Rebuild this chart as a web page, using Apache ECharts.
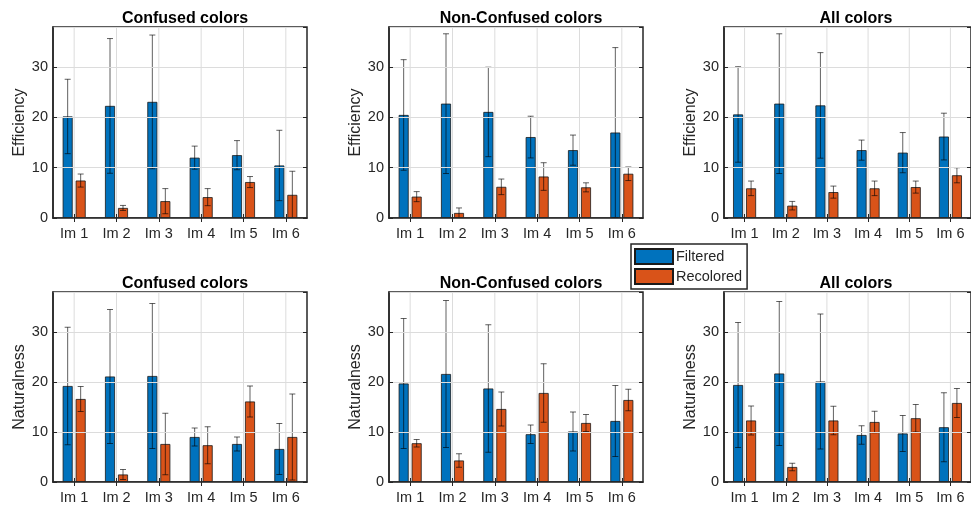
<!DOCTYPE html>
<html>
<head>
<meta charset="utf-8">
<script src="https://cdn.jsdelivr.net/npm/echarts@6/dist/echarts.min.js"></script>
<style>
html,body{margin:0;padding:0;background:#fff;}
#chart{width:971px;height:507px;}
</style>
</head>
<body>
<div id="chart"></div>
<script>
// ---- data ----
const categories = ['Im 1', 'Im 2', 'Im 3', 'Im 4', 'Im 5', 'Im 6'];
const seriesNames = ['Filtered', 'Recolored'];
const panelTitles = ['Confused colors', 'Non-Confused colors', 'All colors',
                     'Confused colors', 'Non-Confused colors', 'All colors'];
const yLabels = ['Efficiency', 'Efficiency', 'Efficiency', 'Naturalness', 'Naturalness', 'Naturalness'];
const yTicks = [0, 10, 20, 30];
const yMax = 38;

// Efficiency - Confused colors
const effConfFiltered = [20.2, 22.3, 23.1, 12.0, 12.5, 10.45];
const effConfFilteredErr = [7.4, 13.4, 13.3, 2.3, 2.9, 7.0];
const effConfRecolored = [7.45, 2.0, 3.35, 4.15, 7.15, 4.6];
const effConfRecoloredErr = [1.3, 0.5, 2.5, 1.7, 1.1, 4.7];
// Efficiency - Non-Confused colors
const effNonFiltered = [20.5, 22.75, 21.1, 16.1, 13.5, 17.0];
const effNonFilteredErr = [11.0, 13.9, 8.9, 4.15, 3.0, 16.9];
const effNonRecolored = [4.25, 1.0, 6.2, 8.25, 6.1, 8.8];
const effNonRecoloredErr = [1.0, 1.0, 1.55, 2.75, 0.9, 1.35];
// Efficiency - All colors
const effAllFiltered = [20.6, 22.75, 22.4, 13.5, 13.0, 16.2];
const effAllFilteredErr = [9.5, 13.9, 10.5, 2.0, 4.0, 4.65];
const effAllRecolored = [5.9, 2.45, 5.15, 5.9, 6.15, 8.5];
const effAllRecoloredErr = [1.45, 0.85, 1.2, 1.45, 1.2, 1.5];
// Naturalness - Confused colors
const natConfFiltered = [19.2, 21.1, 21.2, 9.0, 7.6, 6.6];
const natConfFilteredErr = [11.75, 13.4, 14.5, 1.8, 1.4, 5.1];
const natConfRecolored = [16.6, 1.5, 7.6, 7.35, 16.1, 9.0];
const natConfRecoloredErr = [2.5, 1.0, 6.15, 3.7, 3.1, 8.6];
// Naturalness - Non-Confused colors
const natNonFiltered = [19.7, 21.6, 18.7, 9.55, 10.1, 12.2];
const natNonFilteredErr = [13.0, 14.7, 12.75, 1.85, 3.9, 7.1];
const natNonRecolored = [7.75, 4.3, 14.6, 17.8, 11.8, 16.4];
const natNonRecoloredErr = [0.75, 1.35, 3.4, 5.85, 1.7, 2.15];
// Naturalness - All colors
const natAllFiltered = [19.4, 21.7, 20.1, 9.4, 9.7, 10.95];
const natAllFilteredErr = [12.5, 14.4, 13.5, 1.85, 3.6, 6.9];
const natAllRecolored = [12.3, 3.0, 12.3, 12.0, 12.75, 15.8];
const natAllRecoloredErr = [2.9, 0.75, 2.85, 2.15, 2.75, 2.9];

const panelData = [
  [effConfFiltered, effConfFilteredErr, effConfRecolored, effConfRecoloredErr],
  [effNonFiltered, effNonFilteredErr, effNonRecolored, effNonRecoloredErr],
  [effAllFiltered, effAllFilteredErr, effAllRecolored, effAllRecoloredErr],
  [natConfFiltered, natConfFilteredErr, natConfRecolored, natConfRecoloredErr],
  [natNonFiltered, natNonFilteredErr, natNonRecolored, natNonRecoloredErr],
  [natAllFiltered, natAllFilteredErr, natAllRecolored, natAllRecoloredErr]
];

// ---- layout / style ----
const colors = ['#0072BD', '#D95319'];
const colLefts = [53, 389, 724];
const gridW = 254;
const rowTops = [27, 292];
const gridHs = [191, 190];
const FONT = 'Liberation Sans, Arial, Helvetica, sans-serif';
const TXT = '#262626';
const GRIDC = '#dcdcdc';

const grids = [], xAxes = [], yAxes = [], titles = [], series = [];

for (let p = 0; p < 6; p++) {
  const r = Math.floor(p / 3), c = p % 3;
  grids.push({
    left: colLefts[c], top: rowTops[r], width: gridW, height: gridHs[r],
    show: true, borderColor: TXT, borderWidth: 1.5, backgroundColor: '#fff', z: 0
  });
  titles.push({
    text: panelTitles[p],
    left: colLefts[c] + gridW / 2, textAlign: 'center',
    top: r === 0 ? 6 : 271,
    textStyle: { fontFamily: FONT, fontSize: 16, fontWeight: 'bold', color: '#000' }
  });
  xAxes.push({
    type: 'category', gridIndex: p, data: categories, boundaryGap: true,
    axisLine: { show: true, lineStyle: { color: TXT, width: 1.5 } },
    axisTick: { show: true, inside: true, alignWithLabel: true, length: 4, lineStyle: { color: TXT } },
    axisLabel: { fontFamily: FONT, fontSize: 14.5, color: TXT, margin: 8 },
    splitLine: { show: false },
    z: 5
  });
  yAxes.push({
    type: 'value', gridIndex: p, min: 0, max: yMax, interval: 10,
    name: yLabels[p], nameLocation: 'middle', nameGap: 25, nameRotate: 90,
    nameTextStyle: { fontFamily: FONT, fontSize: 16, color: TXT },
    axisLine: { show: true, lineStyle: { color: TXT, width: 1.5 } },
    axisTick: { show: true, inside: true, length: 4, lineStyle: { color: TXT } },
    axisLabel: {
      fontFamily: FONT, fontSize: 14.5, color: TXT, margin: 5, showMaxLabel: false,
      formatter: v => (yTicks.indexOf(v) >= 0 ? String(v) : '')
    },
    splitLine: { show: true, lineStyle: { color: GRIDC, width: 1 } },
    z: 5
  });
}
// mirror axes (top / right) carrying only inside ticks, as in the reference box
for (let p = 0; p < 6; p++) {
  xAxes.push({
    type: 'category', gridIndex: p, data: categories, position: 'top', boundaryGap: true,
    axisLine: { show: false },
    axisTick: { show: true, inside: true, alignWithLabel: true, length: 4, lineStyle: { color: TXT } },
    axisLabel: { show: false }, splitLine: { show: false }, z: 5
  });
  yAxes.push({
    type: 'value', gridIndex: p, position: 'right', min: 0, max: yMax, interval: 10,
    axisLine: { show: false },
    axisTick: { show: true, inside: true, length: 4, lineStyle: { color: TXT } },
    axisLabel: { show: false }, splitLine: { show: false }, z: 5
  });
}

for (let p = 0; p < 6; p++) {
  // vertical grid lines at category centres
  series.push({
    type: 'custom', xAxisIndex: p, yAxisIndex: p, animation: false, silent: true, z: 1,
    data: categories.map((cat, i) => [i, yMax]),
    encode: { x: 0, y: 1 },
    renderItem: function (params, api) {
      const i = api.value(0);
      const a = api.coord([i, 0]);
      const b = api.coord([i, yMax]);
      return { type: 'line', shape: { x1: a[0], y1: a[1], x2: b[0], y2: b[1] },
               style: { stroke: GRIDC, lineWidth: 1 } };
    }
  });
  const d = panelData[p];
  for (let s = 0; s < 2; s++) {
    series.push({
      type: 'bar', name: seriesNames[s], xAxisIndex: p, yAxisIndex: p,
      data: d[s * 2], barWidth: 10, barGap: '30%',
      itemStyle: { color: colors[s], borderColor: '#1a1a1a', borderWidth: 0.8 },
      emphasis: { disabled: true }, animation: false, z: 2
    });
  }
  for (let s = 0; s < 2; s++) {
    const offset = s === 0 ? -6.5 : 6.5;
    const means = d[s * 2], errs = d[s * 2 + 1];
    series.push({
      type: 'custom', xAxisIndex: p, yAxisIndex: p, animation: false, silent: true, z: 3,
      data: means.map((m, i) => [i, m, errs[i]]),
      encode: { x: 0, y: 1 },
      renderItem: function (params, api) {
        const i = api.value(0), m = api.value(1), e = api.value(2);
        const top = api.coord([i, Math.min(yMax, m + e)]);
        const bot = api.coord([i, Math.max(0, m - e)]);
        const x = top[0] + offset;
        const cap = 3;
        const st = { stroke: 'rgba(0,0,0,0.62)', lineWidth: 1 };
        const children = [
          { type: 'line', shape: { x1: x, y1: top[1], x2: x, y2: bot[1] }, style: st },
          { type: 'line', shape: { x1: x - cap, y1: top[1], x2: x + cap, y2: top[1] }, style: st }
        ];
        if (m - e > 0) {
          children.push({ type: 'line', shape: { x1: x - cap, y1: bot[1], x2: x + cap, y2: bot[1] }, style: st });
        }
        return { type: 'group', children: children };
      }
    });
  }
}

const chart = echarts.init(document.getElementById('chart'), null, { renderer: 'canvas' });
chart.setOption({
  backgroundColor: '#fff',
  animation: false,
  title: titles,
  grid: grids,
  xAxis: xAxes,
  yAxis: yAxes,
  legend: {
    data: seriesNames, orient: 'vertical', left: 631, top: 244,
    itemWidth: 38, itemHeight: 15, itemGap: 3, padding: [4, 5, 4, 3],
    borderColor: TXT, borderWidth: 1.5, backgroundColor: '#fff', icon: 'rect',
    textStyle: { fontFamily: FONT, fontSize: 14.5, color: TXT, padding: [0, 0, 0, -2] },
    z: 10
  },
  series: series
});
</script>
</body>
</html>
